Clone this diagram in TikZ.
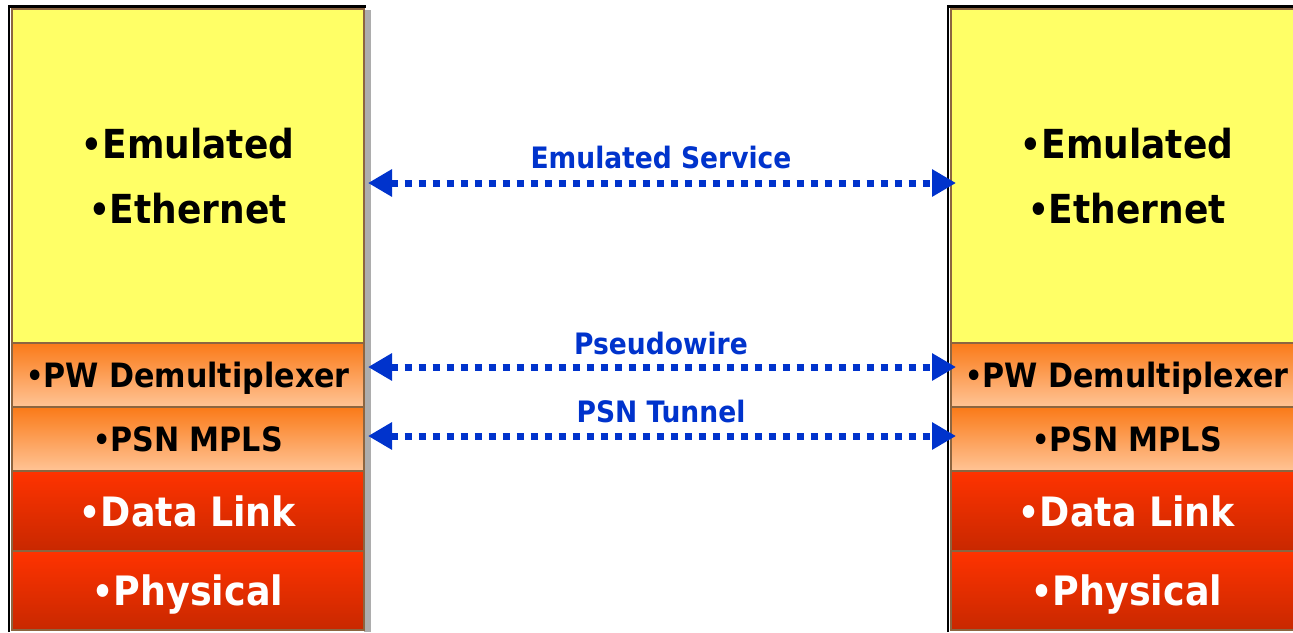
\documentclass[tikz,border=0pt]{standalone}
\usepackage{fontspec}
\newfontfamily\tf{DejaVu Sans Condensed}[BoldFont={DejaVu Sans Condensed Bold}]
\usetikzlibrary{arrows.meta}
\newcommand{\bul}{\raisebox{0.03em}{\scalebox{0.9}{\textbullet}}}
\definecolor{ylw}{HTML}{FFFF66}
\definecolor{brn}{HTML}{8C6540}
\definecolor{orT}{HTML}{FA7A18}
\definecolor{orB}{HTML}{FFC496}
\definecolor{rdT}{HTML}{FF3300}
\definecolor{rdB}{HTML}{C82800}
\definecolor{blu}{HTML}{0033CC}
\definecolor{shd}{HTML}{ADADAD}
\tikzset{
  layer/.style={draw=brn, line width=2pt, inner sep=0pt, outer sep=0pt, anchor=north west,
    minimum width=352pt, align=center, text depth=0pt, font=\tf\bfseries},
  yl/.style={layer, fill=ylw, minimum height=334pt, font=\tf\bfseries\fontsize{40}{65}\selectfont},
  orl/.style={layer, top color=orT, bottom color=orB, minimum height=64pt, font=\tf\bfseries\fontsize{33.5}{40}\selectfont},
  rdl/.style={layer, top color=rdT, bottom color=rdB, text=white, font=\tf\bfseries\fontsize{40.5}{50}\selectfont},
  arr/.style={blu, line width=7pt, dash pattern=on 7pt off 7pt, {Triangle[length=24pt,width=26pt]}-{Triangle[length=24pt,width=26pt]}},
  lbl/.style={blu, anchor=base, font=\tf\bfseries\fontsize{29.5}{32}\selectfont},
  frame/.style={black, line width=2.5pt}
}
\begin{document}
\begin{tikzpicture}[x=1pt,y=-1pt]
\useasboundingbox (0,0) rectangle (1293,632);
\fill[shd] (364,10) rectangle (371,632);
\foreach \dx/\p in {0/L,939/R}{
\node[yl] (\p y) at (12+\dx,9) {\bul Emulated\\\bul Ethernet};
\node[orl] (\p pw) at (12+\dx,343) {\bul PW Demultiplexer};
\node[orl] (\p psn) at (12+\dx,407) {\bul PSN MPLS};
\node[rdl, minimum height=80pt] (\p dl) at (12+\dx,471) {\bul Data Link};
\node[rdl, minimum height=79pt] (\p ph) at (12+\dx,551) {\bul Physical};
}
\draw[frame] (9,632) -- (9,6.5) -- (366,6.5);
\draw[frame] (948,632) -- (948,6.5) -- (1293,6.5);
\coordinate (a1l) at (368,183); \coordinate (a1r) at (956,183);
\coordinate (a2l) at (368,367); \coordinate (a2r) at (956,367);
\coordinate (a3l) at (368,436); \coordinate (a3r) at (956,436);
\draw[arr] (a1l) -- (a1r);
\draw[arr] (a2l) -- (a2r);
\draw[arr] (a3l) -- (a3r);
\node[lbl] (t1) at (661,168) {Emulated Service};
\node[lbl] (t2) at (661,354) {Pseudowire};
\node[lbl] (t3) at (661,422) {PSN Tunnel};
\end{tikzpicture}
\end{document}
